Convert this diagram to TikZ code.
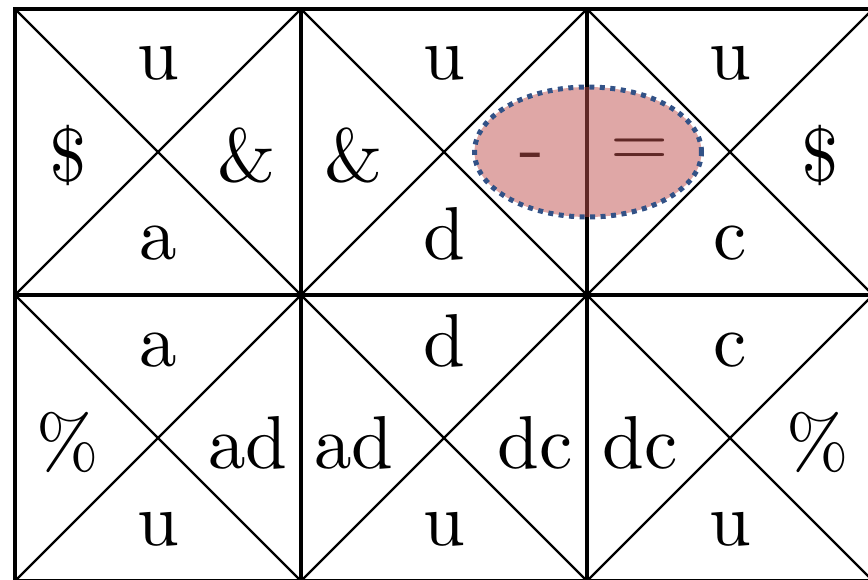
\documentclass[tikz,border=0pt]{standalone}
\usepackage{fontspec}
\setmainfont{lmroman10-regular}[Extension=.otf]
\usetikzlibrary{shapes.geometric}
\definecolor{hlfill}{RGB}{192,80,77}
\definecolor{hlborder}{RGB}{50,82,135}
\begin{document}
\begin{tikzpicture}[x=1pt,y=-1pt,
  gridline/.style={line width=3.2pt, line cap=rect},
  diagline/.style={line width=2.2pt},
  lab/.style={anchor=base, inner sep=0pt, font=\fontsize{75}{80}\selectfont},
  hl/.style={ellipse, draw=hlborder, line width=5pt, dash pattern=on 5pt off 5.5pt,
    fill=hlfill, fill opacity=0.5, draw opacity=1, minimum width=227pt, minimum height=130pt, inner sep=0pt}]
\useasboundingbox (0,0) rectangle (868,580);
% cell corners
\foreach \i/\x in {0/15,1/301,2/587,3/873}{
  \foreach \j/\y in {0/9,1/295,2/581}{
    \coordinate (p\i\j) at (\x,\y);
  }
}
% diagonals
\foreach \i [evaluate=\i as \k using int(\i+1)] in {0,1,2}{
  \foreach \j [evaluate=\j as \l using int(\j+1)] in {0,1}{
    \draw[diagline] (p\i\j) -- (p\k\l);
    \draw[diagline] (p\k\j) -- (p\i\l);
  }
}
% grid
\foreach \j in {0,1,2}{ \draw[gridline] (p0\j) -- (p3\j); }
\foreach \i in {0,1,2,3}{ \draw[gridline] (p\i0) -- (p\i2); }
% labels row 1 (centre y 152)
\node[lab] (r1c1t) at (158,80) {u};
\node[lab] (r1c1l) at (68,182) {\$};
\node[lab] (r1c1r) at (247,182) {\&};
\node[lab] (r1c1b) at (158,260) {a};
\node[lab] (r1c2t) at (444,80) {u};
\node[lab] (r1c2l) at (354,182) {\&};
\node[lab] (r1c2r) at (532,172) {-};
\node[lab] (r1c2b) at (444,260) {d};
\node[lab] (r1c3t) at (730,80) {u};
\node[lab] (r1c3l) at (640,167) {=};
\node[lab] (r1c3r) at (820,182) {\$};
\node[lab] (r1c3b) at (730,260) {c};
% labels row 2 (centre y 438)
\node[lab] (r2c1t) at (158,366) {a};
\node[lab] (r2c1l) at (68,468) {\%};
\node[lab] (r2c1r) at (248,468) {ad};
\node[lab] (r2c1b) at (158,545) {u};
\node[lab] (r2c2t) at (444,366) {d};
\node[lab] (r2c2l) at (354,468) {ad};
\node[lab] (r2c2r) at (535,468) {dc};
\node[lab] (r2c2b) at (444,545) {u};
\node[lab] (r2c3t) at (730,366) {c};
\node[lab] (r2c3l) at (640,468) {dc};
\node[lab] (r2c3r) at (818,468) {\%};
\node[lab] (r2c3b) at (730,545) {u};
% highlight
\node[hl] (mark1) at (588,152) {};
\end{tikzpicture}
\end{document}
